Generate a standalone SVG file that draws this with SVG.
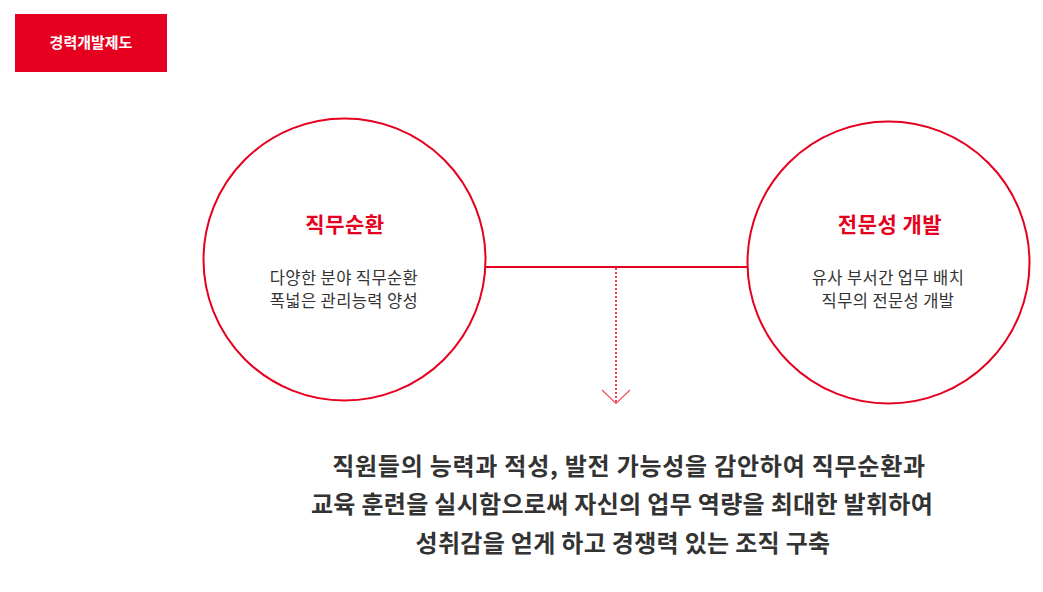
<svg xmlns="http://www.w3.org/2000/svg" width="1043" height="592" viewBox="0 0 1043 592">
<style>
text{font-family:"Noto Sans CJK KR","Noto Sans",sans-serif;text-anchor:middle}
.ring{fill:#fff;stroke:#e60020;stroke-width:2}
.title{fill:#e60020;font-size:21px;font-weight:700;letter-spacing:0.5px}
.sub{fill:#333;font-size:16.5px;letter-spacing:0.4px}
.main{fill:#333;font-size:24px;font-weight:700;letter-spacing:0.3px}
</style>
<rect width="1043" height="592" fill="#fff"/>
<g id="badge">
<rect x="15" y="14" width="152" height="58" fill="#e60020"/>
<text x="91" y="48" fill="#fff" font-size="15" font-weight="700">경력개발제도</text>
</g>
<g id="connectors">
<line x1="486" y1="267" x2="748" y2="267" stroke="#e60020" stroke-width="2"/>
<line x1="616" y1="268" x2="616" y2="402" stroke="#e60020" stroke-width="1.5" stroke-dasharray="2 2"/>
<polyline points="602,390 616,403.5 630,390" fill="none" stroke="#ee5060" stroke-width="1.2"/>
</g>
<g id="node-rotation">
<circle class="ring" cx="344.5" cy="259.5" r="141"/>
<text class="title" x="345" y="232">직무순환</text>
<text class="sub" x="344" y="284">다양한 분야 직무순환</text>
<text class="sub" x="344" y="307">폭넓은 관리능력 양성</text>
</g>
<g id="node-expertise">
<circle class="ring" cx="888.5" cy="262.5" r="141"/>
<text class="title" x="890" y="232">전문성 개발</text>
<text class="sub" x="888" y="284">유사 부서간 업무 배치</text>
<text class="sub" x="888" y="307">직무의 전문성 개발</text>
</g>
<g id="summary">
<text class="main" x="629" y="475" style="letter-spacing:0.75px">직원들의 능력과 적성, 발전 가능성을 감안하여 직무순환과</text>
<text class="main" x="622" y="513">교육 훈련을 실시함으로써 자신의 업무 역량을 최대한 발휘하여</text>
<text class="main" x="623" y="552">성취감을 얻게 하고 경쟁력 있는 조직 구축</text>
</g>
</svg>
